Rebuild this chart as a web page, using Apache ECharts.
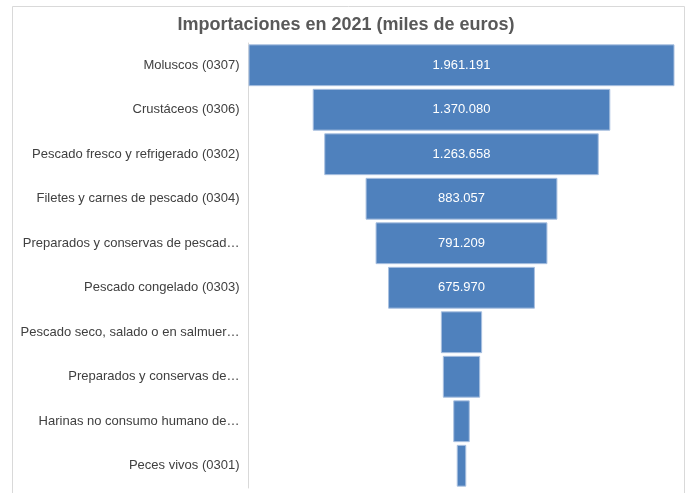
<!DOCTYPE html>
<html>
<head>
<meta charset="utf-8">
<script src="https://cdn.jsdelivr.net/npm/echarts@6/dist/echarts.min.js"></script>
<style>
  html, body { margin: 0; padding: 0; background: #ffffff; }
  #chart { width: 688px; height: 493px; }
</style>
</head>
<body>
<div id="chart"></div>
<script>
// Import categories (HS chapter 03 / 16), top to bottom
const categories = [
  'Moluscos (0307)',
  'Crustáceos (0306)',
  'Pescado fresco y refrigerado (0302)',
  'Filetes y carnes de pescado (0304)',
  'Preparados y conservas de pescad…',
  'Pescado congelado (0303)',
  'Pescado seco, salado o en salmuer…',
  'Preparados y conservas de…',
  'Harinas no consumo humano de…',
  'Peces vivos (0301)'
];

// Imports in thousands of euros
const values = [1961191, 1370080, 1263658, 883057, 791209, 675970, 190000, 172000, 76000, 44000];

// Bars narrower than this carry no value label
const labelMinValue = 500000;

const maxValue = Math.max(...values);

function formatEs(v) {
  return String(Math.round(v)).replace(/\B(?=(\d{3})+(?!\d))/g, '.');
}

const chart = echarts.init(document.getElementById('chart'), null, { renderer: 'canvas' });

chart.setOption({
  animation: false,
  backgroundColor: '#ffffff',
  textStyle: { fontFamily: 'Liberation Sans, Arial, sans-serif' },
  title: {
    text: 'Importaciones en 2021 (miles de euros)',
    left: 341,
    top: 11,
    textAlign: 'center',
    textStyle: {
      fontSize: 18,
      fontWeight: 'bold',
      color: '#595959',
      fontFamily: 'Liberation Sans, Arial, sans-serif'
    }
  },
  graphic: [{
    type: 'rect',
    shape: { x: 12.5, y: 6.5, width: 672, height: 520 },
    style: { fill: 'none', stroke: '#d9d9d9', lineWidth: 1 },
    silent: true,
    z: -1
  }],
  grid: { left: 248.5, width: 426, top: 43, height: 445 },
  xAxis: {
    type: 'value',
    min: 0,
    max: maxValue,
    show: false
  },
  yAxis: {
    type: 'category',
    data: categories,
    inverse: true,
    axisTick: { show: false },
    axisLine: { lineStyle: { color: '#d9d9d9', width: 1 } },
    axisLabel: {
      margin: 9,
      fontSize: 13,
      color: '#404040',
      fontFamily: 'Liberation Sans, Arial, sans-serif'
    }
  },
  series: [
    {
      // transparent offset that centres each bar
      type: 'bar',
      stack: 'funnel',
      data: values.map(v => (maxValue - v) / 2),
      itemStyle: { color: 'transparent' },
      barCategoryGap: '6%',
      silent: true
    },
    {
      type: 'bar',
      stack: 'funnel',
      barCategoryGap: '6%',
      data: values.map(v => ({
        value: v,
        label: { show: v >= labelMinValue }
      })),
      itemStyle: {
        color: '#4f81bd',
        borderColor: '#a9c0e0',
        borderWidth: 1
      },
      label: {
        position: 'inside',
        color: '#ffffff',
        fontSize: 13,
        fontFamily: 'Liberation Sans, Arial, sans-serif',
        formatter: p => formatEs(p.value)
      }
    }
  ]
});
</script>
</body>
</html>
